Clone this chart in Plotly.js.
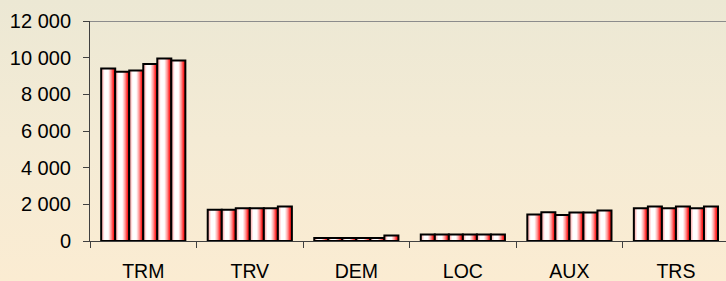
<!DOCTYPE html>
<html>
<head>
<meta charset="utf-8">
<script src="https://cdn.plot.ly/plotly-3.0.1.min.js"></script>
<style>
html,body{margin:0;padding:0;}
body{width:726px;height:281px;overflow:hidden;background:linear-gradient(to bottom,#ece8d4 0%,#f4ebd5 50%,#fbecd2 100%);}
#chart{width:726px;height:281px;}
</style>
</head>
<body>
<div id="chart"></div>
<script>
var categories = ['TRM','TRV','DEM','LOC','AUX','TRS'];
var series1 = [9410, 1700, 170, 360, 1440, 1790];
var series2 = [9230, 1700, 170, 360, 1570, 1880];
var series3 = [9300, 1790, 170, 360, 1420, 1790];
var series4 = [9650, 1790, 170, 360, 1550, 1880];
var series5 = [9960, 1790, 170, 360, 1550, 1790];
var series6 = [9850, 1880, 300, 360, 1660, 1880];
var seriesNames = ['S1','S2','S3','S4','S5','S6'];
var yTicks = [0, 2000, 4000, 6000, 8000, 10000, 12000];

var allSeries = [series1, series2, series3, series4, series5, series6];
var traces = allSeries.map(function(vals, i){
  return {
    type: 'bar',
    name: seriesNames[i],
    x: categories,
    y: vals,
    marker: {color: '#ffb0b0', line: {color: '#000000', width: 2}},
    hoverinfo: 'x+y'
  };
});

var layout = {
  width: 726, height: 281,
  margin: {l: 90, r: 0, t: 21, b: 40, pad: 0},
  paper_bgcolor: 'rgba(0,0,0,0)',
  plot_bgcolor: 'rgba(0,0,0,0)',
  showlegend: false,
  barmode: 'group',
  bargap: 0.21,
  bargroupgap: 0,
  separators: ', ',
  font: {family: '"Liberation Sans", Arial, sans-serif', size: 20, color: '#000000'},
  xaxis: {
    type: 'category',
    range: [-0.5, 5.47],
    showline: true, linecolor: '#404040', linewidth: 1,
    ticks: 'outside', tickson: 'boundaries', ticklen: 6, tickcolor: '#404040', tickwidth: 1,
    showgrid: false, zeroline: false,
    ticklabelstandoff: 13,
    tickfont: {size: 19.5}
  },
  yaxis: {
    range: [0, 12000],
    tickvals: yTicks,
    tickformat: ',d',
    showline: true, linecolor: '#404040', linewidth: 1,
    ticks: 'outside', ticklen: 6, tickcolor: '#404040', tickwidth: 1,
    showgrid: false, zeroline: false,
    ticklabelstandoff: 8,
    tickfont: {size: 20}
  },
  shapes: [{
    type: 'line', xref: 'paper', yref: 'y', x0: 0, x1: 1, y0: 12000, y1: 12000,
    line: {color: '#8c8c8c', width: 2}
  }]
};

Plotly.newPlot('chart', traces, layout, {displayModeBar: false, staticPlot: true}).then(function(gd){
  var svg = gd.querySelector('.main-svg');
  var ns = 'http://www.w3.org/2000/svg';
  var defs = svg.querySelector('defs');
  if (!defs) { defs = document.createElementNS(ns, 'defs'); svg.insertBefore(defs, svg.firstChild); }
  var grad = document.createElementNS(ns, 'linearGradient');
  grad.setAttribute('id', 'cylGrad');
  grad.setAttribute('x1', '0'); grad.setAttribute('y1', '0');
  grad.setAttribute('x2', '1'); grad.setAttribute('y2', '0');
  var stops = [[0,'#ff9a9a'],[0.12,'#ffc4c4'],[0.25,'#ffffff'],[0.5,'#ffffff'],[0.6,'#ffd0d0'],[0.72,'#ff9090'],[0.85,'#ff3030'],[1,'#ff0000']];
  stops.forEach(function(s){
    var st = document.createElementNS(ns, 'stop');
    st.setAttribute('offset', s[0]);
    st.setAttribute('stop-color', s[1]);
    grad.appendChild(st);
  });
  defs.appendChild(grad);
  gd.querySelectorAll('g.trace.bars path').forEach(function(p){
    p.style.fill = 'url(#cylGrad)';
  });
});
</script>
</body>
</html>
